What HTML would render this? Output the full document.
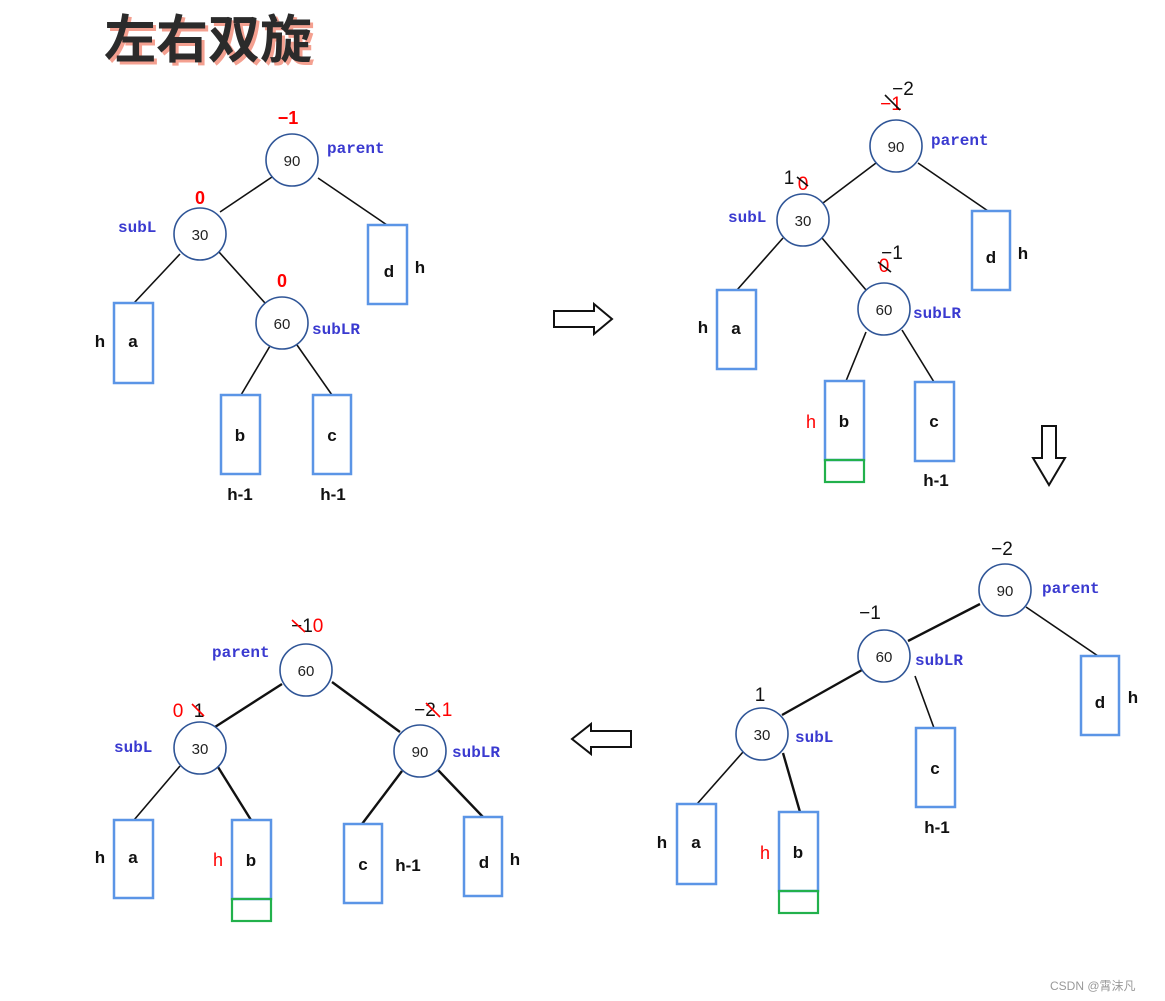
<!DOCTYPE html>
<html><head><meta charset="utf-8"><style>
html,body{margin:0;padding:0;background:#fff;width:1165px;height:1001px;overflow:hidden}
svg{display:block}
.c{fill:#fff;stroke:#2f5597;stroke-width:1.6}
.r{fill:none;stroke:#5b95e6;stroke-width:2.5}
.g{fill:none;stroke:#22b14c;stroke-width:2.2}
.l{stroke:#111;stroke-width:1.6}
.lb{stroke:#111;stroke-width:2.4}
.n{font:15px "Liberation Sans",sans-serif;fill:#222;text-anchor:middle}
.bl{font:bold 16px "Liberation Mono",monospace;fill:#3a3ad0}
.t{font:bold 17px "Liberation Sans",sans-serif;fill:#111;text-anchor:middle}
.rd{font:bold 18px "Liberation Sans",sans-serif;fill:#f00;text-anchor:middle}
.rn{font:19px "Liberation Sans",sans-serif;fill:#f00;text-anchor:middle}
.bk{font:19px "Liberation Sans",sans-serif;fill:#111;text-anchor:middle}
.ar{fill:#fff;stroke:#111;stroke-width:2}
</style></head><body>
<svg width="1165" height="1001" xmlns="http://www.w3.org/2000/svg">
<text x="107" y="61" style="font:bold 52px 'Noto Sans CJK SC',sans-serif;fill:#f4a090">左右双旋</text>
<text x="104" y="58" style="font:bold 52px 'Noto Sans CJK SC',sans-serif;fill:#2b2b2b">左右双旋</text>

<!-- Panel 1 -->
<line class="l" x1="272" y1="177" x2="220" y2="212"/>
<line class="l" x1="318" y1="178" x2="387" y2="225"/>
<line class="l" x1="180" y1="254" x2="134" y2="303"/>
<line class="l" x1="219" y1="252" x2="265" y2="303"/>
<line class="l" x1="270" y1="346" x2="241" y2="395"/>
<line class="l" x1="297" y1="345" x2="332" y2="395"/>
<circle class="c" cx="292" cy="160" r="26"/><text class="n" x="292" y="166">90</text>
<circle class="c" cx="200" cy="234" r="26"/><text class="n" x="200" y="240">30</text>
<circle class="c" cx="282" cy="323" r="26"/><text class="n" x="282" y="329">60</text>
<rect class="r" x="368" y="225" width="39" height="79"/><text class="t" x="389" y="277">d</text><text class="t" x="420" y="273">h</text>
<rect class="r" x="114" y="303" width="39" height="80"/><text class="t" x="133" y="347">a</text><text class="t" x="100" y="347">h</text>
<rect class="r" x="221" y="395" width="39" height="79"/><text class="t" x="240" y="441">b</text><text class="t" x="240" y="500">h-1</text>
<rect class="r" x="313" y="395" width="38" height="79"/><text class="t" x="332" y="441">c</text><text class="t" x="333" y="500">h-1</text>
<text class="rd" x="288" y="124">−1</text><text class="bl" x="327" y="153">parent</text>
<text class="rd" x="200" y="204">0</text><text class="bl" x="118" y="232">subL</text>
<text class="rd" x="282" y="287">0</text><text class="bl" x="312" y="334">subLR</text>

<!-- right arrow -->
<polygon class="ar" points="554,311 594,311 594,304 612,319 594,334 594,327 554,327"/>

<!-- Panel 2 -->
<line class="l" x1="876" y1="163" x2="823" y2="203"/>
<line class="l" x1="918" y1="163" x2="988" y2="211"/>
<line class="l" x1="783" y1="238" x2="737" y2="290"/>
<line class="l" x1="822" y1="238" x2="866" y2="290"/>
<line class="l" x1="866" y1="332" x2="846" y2="381"/>
<line class="l" x1="902" y1="330" x2="934" y2="382"/>
<circle class="c" cx="896" cy="146" r="26"/><text class="n" x="896" y="152">90</text>
<circle class="c" cx="803" cy="220" r="26"/><text class="n" x="803" y="226">30</text>
<circle class="c" cx="884" cy="309" r="26"/><text class="n" x="884" y="315">60</text>
<rect class="r" x="972" y="211" width="38" height="79"/><text class="t" x="991" y="263">d</text><text class="t" x="1023" y="259">h</text>
<rect class="r" x="717" y="290" width="39" height="79"/><text class="t" x="736" y="334">a</text><text class="t" x="703" y="333">h</text>
<rect class="r" x="825" y="381" width="39" height="79"/><rect class="g" x="825" y="460" width="39" height="22"/><text class="t" x="844" y="427">b</text><text class="rd" x="811" y="428" style="font-weight:normal">h</text>
<rect class="r" x="915" y="382" width="39" height="79"/><text class="t" x="934" y="427">c</text><text class="t" x="936" y="486">h-1</text>
<text class="bk" x="903" y="95">−2</text><text class="rn" x="891" y="110">−1</text><line class="l" x1="885" y1="95" x2="900" y2="110"/>
<text class="bl" x="931" y="145">parent</text>
<text class="bk" x="789" y="184">1</text><text class="rn" x="803" y="190">0</text><line class="l" x1="797" y1="177" x2="808" y2="186"/>
<text class="bl" x="728" y="222">subL</text>
<text class="bk" x="892" y="259">−1</text><text class="rn" x="884" y="272">0</text><line class="l" x1="878" y1="262" x2="891" y2="272"/>
<text class="bl" x="913" y="318">subLR</text>

<!-- down arrow -->
<polygon class="ar" points="1042,426 1056,426 1056,458 1065,458 1049,485 1033,458 1042,458"/>

<!-- Panel 3 -->
<line class="lb" x1="980" y1="604" x2="908" y2="641"/>
<line class="l" x1="1026" y1="607" x2="1098" y2="656"/>
<line class="lb" x1="862" y1="670" x2="782" y2="715"/>
<line class="l" x1="915" y1="676" x2="934" y2="728"/>
<line class="l" x1="743" y1="752" x2="697" y2="804"/>
<line class="lb" x1="783" y1="753" x2="800" y2="812"/>
<circle class="c" cx="1005" cy="590" r="26"/><text class="n" x="1005" y="596">90</text>
<circle class="c" cx="884" cy="656" r="26"/><text class="n" x="884" y="662">60</text>
<circle class="c" cx="762" cy="734" r="26"/><text class="n" x="762" y="740">30</text>
<rect class="r" x="1081" y="656" width="38" height="79"/><text class="t" x="1100" y="708">d</text><text class="t" x="1133" y="703">h</text>
<rect class="r" x="916" y="728" width="39" height="79"/><text class="t" x="935" y="774">c</text><text class="t" x="937" y="833">h-1</text>
<rect class="r" x="677" y="804" width="39" height="80"/><text class="t" x="696" y="848">a</text><text class="t" x="662" y="848">h</text>
<rect class="r" x="779" y="812" width="39" height="79"/><rect class="g" x="779" y="891" width="39" height="22"/><text class="t" x="798" y="858">b</text><text class="rd" x="765" y="859" style="font-weight:normal">h</text>
<text class="bk" x="1002" y="555">−2</text><text class="bl" x="1042" y="593">parent</text>
<text class="bk" x="870" y="619">−1</text><text class="bl" x="915" y="665">subLR</text>
<text class="bk" x="760" y="701">1</text><text class="bl" x="795" y="742">subL</text>

<!-- left arrow -->
<polygon class="ar" points="631,731 591,731 591,724 572,739 591,754 591,747 631,747"/>

<!-- Panel 4 -->
<line class="lb" x1="282" y1="684" x2="215" y2="727"/>
<line class="lb" x1="332" y1="682" x2="400" y2="732"/>
<line class="l" x1="180" y1="766" x2="134" y2="820"/>
<line class="lb" x1="218" y1="767" x2="251" y2="820"/>
<line class="lb" x1="402" y1="771" x2="362" y2="824"/>
<line class="lb" x1="438" y1="770" x2="483" y2="817"/>
<circle class="c" cx="306" cy="670" r="26"/><text class="n" x="306" y="676">60</text>
<circle class="c" cx="200" cy="748" r="26"/><text class="n" x="200" y="754">30</text>
<circle class="c" cx="420" cy="751" r="26"/><text class="n" x="420" y="757">90</text>
<rect class="r" x="114" y="820" width="39" height="78"/><text class="t" x="133" y="863">a</text><text class="t" x="100" y="863">h</text>
<rect class="r" x="232" y="820" width="39" height="79"/><rect class="g" x="232" y="899" width="39" height="22"/><text class="t" x="251" y="866">b</text><text class="rd" x="218" y="866" style="font-weight:normal">h</text>
<rect class="r" x="344" y="824" width="38" height="79"/><text class="t" x="363" y="870">c</text><text class="t" x="408" y="871">h-1</text>
<rect class="r" x="464" y="817" width="38" height="79"/><text class="t" x="484" y="868">d</text><text class="t" x="515" y="865">h</text>
<text class="bk" x="302" y="632">−1</text><text class="rn" x="318" y="632">0</text><line x1="292" y1="620" x2="305" y2="632" stroke="#f00" stroke-width="1.6"/>
<text class="bl" x="212" y="657">parent</text>
<text class="rn" x="178" y="717">0</text><text class="bk" x="199" y="717">1</text><line x1="192" y1="704" x2="204" y2="716" stroke="#f00" stroke-width="1.6"/>
<text class="bl" x="114" y="752">subL</text>
<text class="bk" x="425" y="716">−2</text><text class="rn" x="447" y="716">1</text><line x1="426" y1="703" x2="440" y2="717" stroke="#f00" stroke-width="1.6"/>
<text class="bl" x="452" y="757">subLR</text>

<text x="1050" y="990" style="font:12px 'Liberation Sans','Noto Sans CJK SC',sans-serif;fill:#999">CSDN @霄沫凡</text>
</svg>
</body></html>
